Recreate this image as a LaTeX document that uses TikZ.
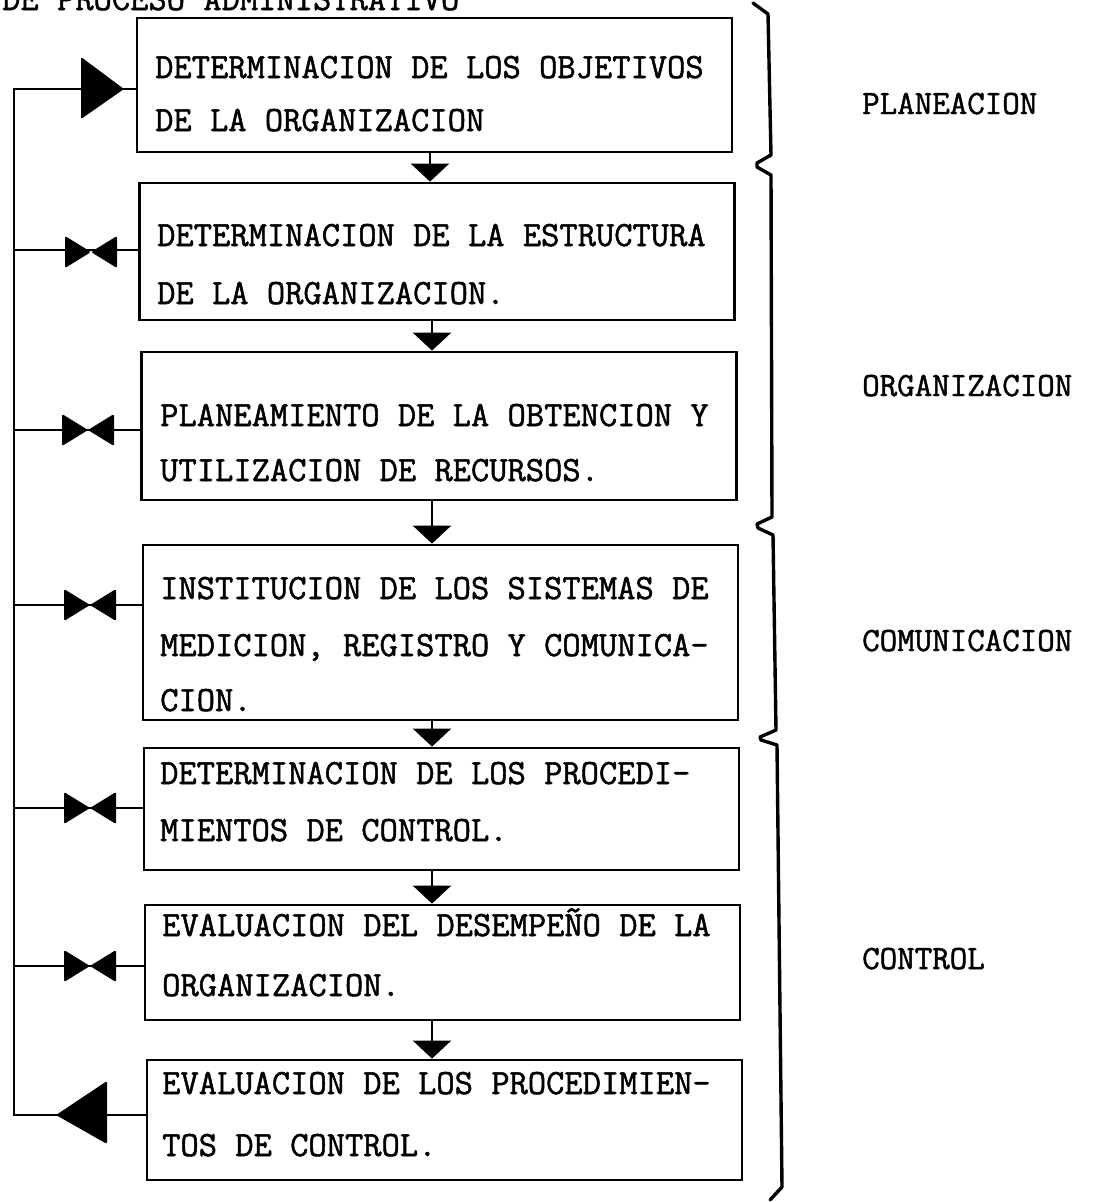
\documentclass[tikz,border=0pt]{standalone}
\usepackage{fontspec}
\usetikzlibrary{arrows.meta}
\newfontfamily\twfont{Latin Modern Mono}[FakeBold=1.4]
\begin{document}
\begin{tikzpicture}[x=1pt,y=-1pt,
  box/.style={draw=black,line width=2.8pt,minimum width=595pt,inner sep=0pt},
  txt/.style={anchor=base west,inner sep=0pt,font=\fontsize{35.5}{40}\selectfont\twfont},
  lbl/.style={anchor=base west,inner sep=0pt,font=\fontsize{34}{40}\selectfont\twfont},
  conn/.style={line width=2.4pt},
  darr/.style={line width=2.8pt,-{Triangle[width=38pt,length=18pt]}},
  brace/.style={line width=3.4pt,line join=round,line cap=round}]
\useasboundingbox (0,0) rectangle (1104,1202);
% title (cut at top edge, as in the reference)
\node[txt] (title) at (2,10) {DE PROCESO ADMINISTRATIVO};
% boxes
\node[box,minimum height=134pt] (b1) at (434.5,85) {};
\node[box,minimum height=137pt] (b2) at (437,251.5) {};
\node[box,minimum height=148pt] (b3) at (439,426) {};
\node[box,minimum height=175pt] (b4) at (440.5,632.5) {};
\node[box,minimum height=122pt] (b5) at (441.5,809) {};
\node[box,minimum height=115pt] (b6) at (442.5,962.5) {};
\node[box,minimum height=120pt] (b7) at (444.5,1120) {};
% texts
\node[txt] (t1a) at (155,78) {DETERMINACION DE LOS OBJETIVOS};
\node[txt] (t1b) at (155,131) {DE LA ORGANIZACION};
\node[txt] (t2a) at (157,246) {DETERMINACION DE LA ESTRUCTURA};
\node[txt] (t2b) at (157,304) {DE LA ORGANIZACION.};
\node[txt] (t3a) at (160,426) {PLANEAMIENTO DE LA OBTENCION Y};
\node[txt] (t3b) at (160,481) {UTILIZACION DE RECURSOS.};
\node[txt] (t4a) at (160,599) {INSTITUCION DE LOS SISTEMAS DE};
\node[txt] (t4b) at (160,656) {MEDICION, REGISTRO Y COMUNICA-};
\node[txt] (t4c) at (160,711) {CION.};
\node[txt] (t5a) at (160,784) {DETERMINACION DE LOS PROCEDI-};
\node[txt] (t5b) at (160,841) {MIENTOS DE CONTROL.};
\node[txt] (t6a) at (162,936) {EVALUACION DEL DESEMPEÑO DE LA};
\node[txt] (t6b) at (162,996) {ORGANIZACION.};
\node[txt] (t7a) at (162,1094) {EVALUACION DE LOS PROCEDIMIEN-};
\node[txt] (t7b) at (162,1156) {TOS DE CONTROL.};
% down arrows
\draw[darr] (b1.south -| 430,0) -- (b2.north -| 430,0);
\draw[darr] (b2.south -| 432,0) -- (b3.north -| 432,0);
\draw[darr] (b3.south -| 432,0) -- (b4.north -| 432,0);
\draw[darr] (b4.south -| 432,0) -- (b5.north -| 432,0);
\draw[darr] (b5.south -| 432,0) -- (b6.north -| 432,0);
\draw[darr] (b6.south -| 432,0) -- (b7.north -| 432,0);
% feedback line
\coordinate (l1) at (14,89);
\coordinate (l2) at (14,250);
\coordinate (l3) at (14,430);
\coordinate (l4) at (14,605);
\coordinate (l5) at (14,808);
\coordinate (l6) at (14,966);
\coordinate (l7) at (14,1115);
\draw[conn,line join=miter] (l1 -| b1.west) -- (l1) -- (l7) -- (l7 -| b7.west);
\draw[conn] (l2) -- (l2 -| b2.west);
\draw[conn] (l3) -- (l3 -| b3.west);
\draw[conn] (l4) -- (l4 -| b4.west);
\draw[conn] (l5) -- (l5 -| b5.west);
\draw[conn] (l6) -- (l6 -| b6.west);
% triangles
\fill[rounded corners=2pt] (81,57) -- (124,89) -- (81,119) -- cycle;
\fill[rounded corners=2pt] (56,1115) -- (107,1081) -- (107,1144) -- cycle;
\foreach \cx/\cy in {91/252,88/430,90/605,90/808,90/966}{
  \fill[rounded corners=1.5pt] (\cx-26,\cy-16) -- (\cx,\cy) -- (\cx-26,\cy+16) -- cycle;
  \fill[rounded corners=1.5pt] (\cx+26,\cy-16) -- (\cx,\cy) -- (\cx+26,\cy+16) -- cycle;
}
% braces
\draw[brace] (753,3) -- (768,14) -- (771,155) -- (757,163) -- (757,167) -- (771,175)
  -- (772,517) -- (757,524) -- (758,528) -- (773,535)
  -- (776,730) -- (760,737) -- (761,740) -- (777,745)
  -- (782,1187) -- (770,1200);
% labels
\node[lbl] (p1) at (862,114) {PLANEACION};
\node[lbl] (p2) at (862,396) {ORGANIZACION};
\node[lbl] (p3) at (862,651) {COMUNICACION};
\node[lbl] (p4) at (862,969) {CONTROL};
\end{tikzpicture}
\end{document}
